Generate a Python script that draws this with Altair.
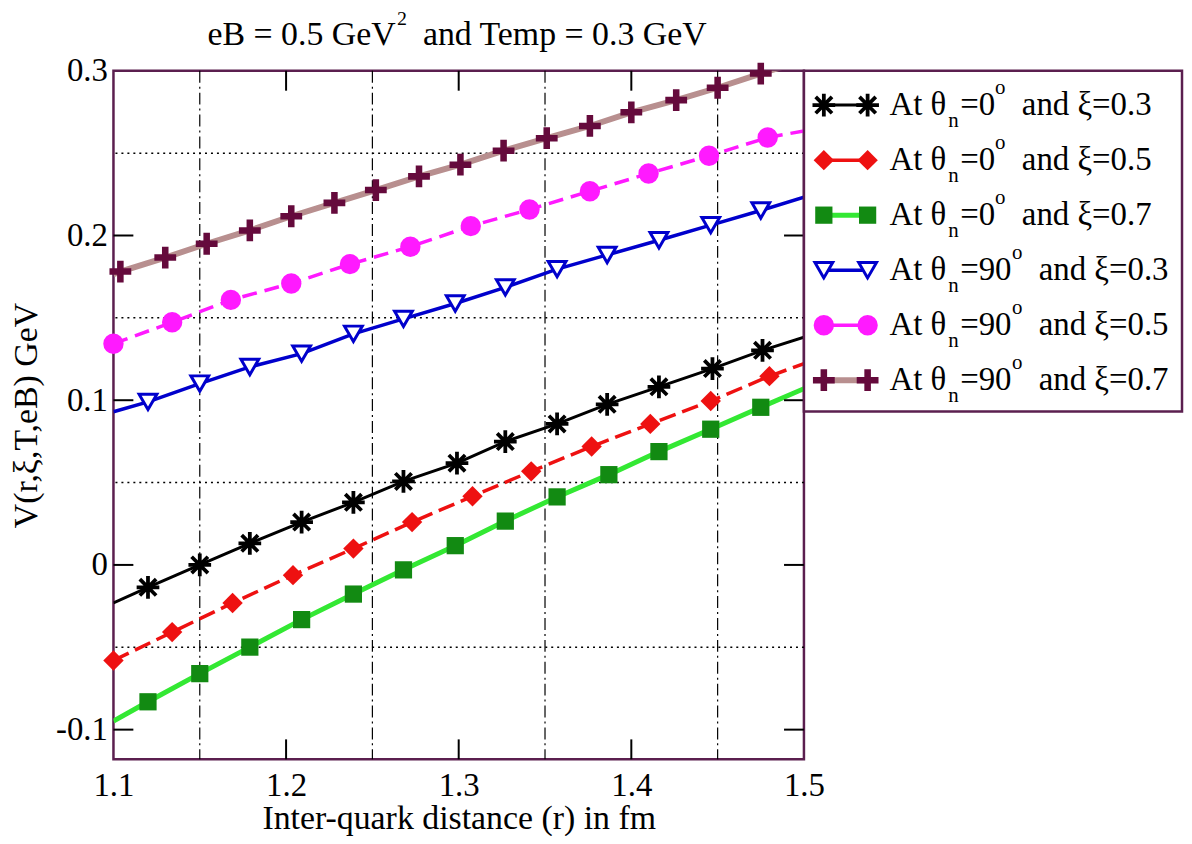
import altair as alt
import pandas as pd

FONT = "Liberation Serif"
FRAME = "#5b1f4f"

# ---------------- data ----------------
# theta_n = 0 deg, xi = 0.3 (black, stars)
black_x = [1.120, 1.150, 1.179, 1.209, 1.239, 1.268, 1.299, 1.327, 1.357, 1.386, 1.416, 1.447, 1.476]
black_y = [-0.0136, 0.0000, 0.0131, 0.0260, 0.0380, 0.0507, 0.0618, 0.0749, 0.0856, 0.0975, 0.1081, 0.1192, 0.1303]
black_ends = [(1.1, -0.0231), (1.5, 0.1383)]

# theta_n = 0 deg, xi = 0.5 (red dashed, diamonds)
red_x = [1.100, 1.134, 1.169, 1.204, 1.239, 1.273, 1.308, 1.342, 1.377, 1.411, 1.446, 1.480]
red_y = [-0.0580, -0.0408, -0.0231, -0.0062, 0.0099, 0.0260, 0.0417, 0.0568, 0.0719, 0.0856, 0.0995, 0.1146]
red_ends = [(1.5, 0.1222)]

# theta_n = 0 deg, xi = 0.7 (green, squares)
green_x = [1.120, 1.150, 1.179, 1.209, 1.239, 1.268, 1.298, 1.327, 1.357, 1.387, 1.416, 1.446, 1.475]
green_y = [-0.0831, -0.0660, -0.0499, -0.0332, -0.0177, -0.0030, 0.0117, 0.0266, 0.0413, 0.0548, 0.0688, 0.0824, 0.0957]
green_ends = [(1.1, -0.0948), (1.5, 0.1070)]

# theta_n = 90 deg, xi = 0.3 (blue, open down triangles)
blue_x = [1.120, 1.150, 1.179, 1.209, 1.239, 1.268, 1.298, 1.327, 1.357, 1.386, 1.416, 1.446, 1.475]
blue_y = [0.0990, 0.1101, 0.1202, 0.1283, 0.1403, 0.1494, 0.1587, 0.1685, 0.1796, 0.1882, 0.1971, 0.2063, 0.2152]
blue_ends = [(1.1, 0.0930), (1.5, 0.2233)]

# theta_n = 90 deg, xi = 0.5 (magenta dashed, circles)
mag_x = [1.100, 1.134, 1.168, 1.203, 1.237, 1.272, 1.307, 1.341, 1.376, 1.410, 1.445, 1.479]
mag_y = [0.1343, 0.1473, 0.1609, 0.1709, 0.1826, 0.1932, 0.2057, 0.2158, 0.2269, 0.2376, 0.2484, 0.2595]
mag_ends = [(1.5, 0.2635)]

# theta_n = 90 deg, xi = 0.7 (rosy line, maroon plus)
plus_x = [1.104, 1.130, 1.154, 1.179, 1.203, 1.228, 1.252, 1.277, 1.301, 1.326, 1.351, 1.376, 1.400, 1.426, 1.450, 1.475]
plus_y = [0.1781, 0.1866, 0.1950, 0.2031, 0.2117, 0.2198, 0.2276, 0.2359, 0.2430, 0.2515, 0.2591, 0.2665, 0.2748, 0.2822, 0.2897, 0.2983]
plus_ends = [(1.1, 0.1765), (1.5, 0.3065)]

legend_theta = ["0", "0", "0", "90", "90", "90"]
legend_xi = ["0.3", "0.5", "0.7", "0.3", "0.5", "0.7"]

x_tick_labels = [1.1, 1.2, 1.3, 1.4, 1.5]
y_tick_labels = [-0.1, 0.0, 0.1, 0.2, 0.3]
x_inner_ticks = [1.2, 1.3, 1.4]
y_inner_ticks = [-0.1, 0.0, 0.1, 0.2]
x_minor_grid = [1.15, 1.25, 1.35, 1.45]
y_minor_grid = [-0.05, 0.05, 0.15, 0.25]

W, H = 694, 692

# ---------------- helpers ----------------
x_scale = alt.Scale(domain=[1.1, 1.5], nice=False, zero=False)
y_scale = alt.Scale(domain=[-0.118, 0.3], nice=False, zero=False)

x_axis = alt.Axis(
    values=x_tick_labels, format=".1f", ticks=False, domain=False, grid=False,
    labelFont=FONT, labelFontSize=33, labelColor="black", labelPadding=10,
    labelFlush=False, labelOverlap=False, title="Inter-quark distance (r) in fm",
    titleFont=FONT, titleFontSize=34, titleFontWeight="normal", titleColor="black",
    titleBaseline="alphabetic", titleY=70,
)
y_axis = alt.Axis(
    values=y_tick_labels,
    labelExpr="abs(datum.value) < 1e-9 ? '0' : (datum.value < 0 ? '-' + format(-datum.value, '.1f') : format(datum.value, '.1f'))",
    ticks=False, domain=False, grid=False, labelFont=FONT, labelFontSize=33,
    labelColor="black", labelPadding=6, labelFlush=False, labelOverlap=False,
    title="V(r,\u03be,T,eB) GeV", titleFont=FONT, titleFontSize=34,
    titleFontWeight="normal", titleColor="black", titleAngle=270,
    titleX=-77, titleBaseline="alphabetic", titleAlign="center",
)


def X():
    return alt.X("r:Q", scale=x_scale, axis=x_axis, title="Inter-quark distance (r) in fm")


def Y():
    return alt.Y("V:Q", scale=y_scale, axis=y_axis, title="V(r,\u03be,T,eB) GeV")


def line_frame(xs, ys, ends):
    pts = list(zip(xs, ys)) + list(ends)
    pts.sort(key=lambda p: p[0])
    return pd.DataFrame({"r": [p[0] for p in pts], "V": [p[1] for p in pts]})


ASTERISK = "M-1,0L1,0M0,-1L0,1M-0.72,-0.72L0.72,0.72M-0.72,0.72L0.72,-0.72"
PLUS = ("M-1,-0.3L-0.3,-0.3L-0.3,-1L0.3,-1L0.3,-0.3L1,-0.3L1,0.3L0.3,0.3"
        "L0.3,1L-0.3,1L-0.3,0.3L-1,0.3Z")

series = [
    dict(xs=black_x, ys=black_y, ends=black_ends, line=dict(color="#000000", strokeWidth=3),
         pt=dict(shape=ASTERISK, filled=False, color="#000000", strokeWidth=3.8, size=520)),
    dict(xs=red_x, ys=red_y, ends=red_ends, line=dict(color="#ee1111", strokeWidth=3.5, strokeDash=[17, 7]),
         pt=dict(shape="diamond", filled=True, color="#ee1111", size=420)),
    dict(xs=green_x, ys=green_y, ends=green_ends, line=dict(color="#33e833", strokeWidth=5),
         pt=dict(shape="square", filled=True, color="#128a12", size=300)),
    dict(xs=blue_x, ys=blue_y, ends=blue_ends, line=dict(color="#0000cc", strokeWidth=3.5),
         pt=dict(shape="triangle-down", filled=True, fill="white", stroke="#0000cc", strokeWidth=3, size=320)),
    dict(xs=mag_x, ys=mag_y, ends=mag_ends, line=dict(color="#ff1aff", strokeWidth=3.5, strokeDash=[15, 8]),
         pt=dict(shape="circle", filled=True, color="#ff1aff", size=420)),
    dict(xs=plus_x, ys=plus_y, ends=plus_ends, line=dict(color="#b88f8f", strokeWidth=6),
         pt=dict(shape=PLUS, filled=True, color="#650a3c", size=480)),
]

layers = []

# grid lines
layers.append(
    alt.Chart(pd.DataFrame({"r": x_minor_grid}))
    .mark_rule(color="black", strokeWidth=1.2, strokeDash=[12, 4, 2, 4])
    .encode(x=X())
)
layers.append(
    alt.Chart(pd.DataFrame({"V": y_minor_grid}))
    .mark_rule(color="black", strokeWidth=1.5, strokeDash=[2, 4])
    .encode(y=Y())
)

# series
for s in series:
    df_line = line_frame(s["xs"], s["ys"], s["ends"])
    df_pts = pd.DataFrame({"r": s["xs"], "V": s["ys"]})
    layers.append(
        alt.Chart(df_line).mark_line(clip=True, **s["line"]).encode(x=X(), y=Y())
    )
    layers.append(
        alt.Chart(df_pts).mark_point(opacity=1, **s["pt"]).encode(x=X(), y=Y())
    )

# inward ticks
xt = pd.DataFrame({"r": x_inner_ticks})
yt = pd.DataFrame({"V": y_inner_ticks})
layers.append(alt.Chart(xt).mark_rule(color="black", strokeWidth=2)
              .encode(x=X(), y=alt.value(H), y2=alt.value(H - 20)))
layers.append(alt.Chart(xt).mark_rule(color="black", strokeWidth=2)
              .encode(x=X(), y=alt.value(0), y2=alt.value(20)))
layers.append(alt.Chart(yt).mark_rule(color="black", strokeWidth=2)
              .encode(y=Y(), x=alt.value(0), x2=alt.value(20)))
layers.append(alt.Chart(yt).mark_rule(color="black", strokeWidth=2)
              .encode(y=Y(), x=alt.value(W - 20), x2=alt.value(W)))

# title
one = pd.DataFrame({"k": [0]})
text_style = dict(font=FONT, color="black", align="left", baseline="alphabetic")
layers.append(alt.Chart(one).mark_text(fontSize=34, **text_style)
              .encode(x=alt.value(94.6), y=alt.value(-26), text=alt.value("eB = 0.5 GeV")))
layers.append(alt.Chart(one).mark_text(fontSize=20, **text_style)
              .encode(x=alt.value(285), y=alt.value(-46), text=alt.value("2")))
layers.append(alt.Chart(one).mark_text(fontSize=34, **text_style)
              .encode(x=alt.value(311), y=alt.value(-26), text=alt.value("and Temp = 0.3 GeV")))

# legend box
layers.append(alt.Chart(one).mark_rect(fill="white", stroke=FRAME, strokeWidth=2.5)
              .encode(x=alt.value(W), x2=alt.value(1074), y=alt.value(0), y2=alt.value(342.5)))

# legend entries
for i, s in enumerate(series):
    yc = 34.5 + 55.3 * i
    layers.append(alt.Chart(one).mark_rule(color=s["line"]["color"], strokeWidth=s["line"]["strokeWidth"])
                  .encode(x=alt.value(714), x2=alt.value(758), y=alt.value(yc)))
    for xp in (714, 758):
        layers.append(alt.Chart(one).mark_point(opacity=1, **s["pt"])
                      .encode(x=alt.value(xp), y=alt.value(yc)))
    th = legend_theta[i]
    sup_x = 886 if len(th) == 1 else 903
    rest_x = 913 if len(th) == 1 else 930
    parts = [
        ("At \u03b8", 780, yc + 10, 33),
        ("n", 839, yc + 21.5, 21),
        ("=" + th, 851, yc + 10, 33),
        ("o", sup_x, yc - 11.5, 21),
        ("and \u03be=" + legend_xi[i], rest_x, yc + 10, 33),
    ]
    for txt, xp, yp, fs in parts:
        layers.append(alt.Chart(one).mark_text(fontSize=fs, **text_style)
                      .encode(x=alt.value(xp), y=alt.value(yp), text=alt.value(txt)))

chart = (
    alt.layer(*layers)
    .properties(
        width=W, height=H,
        autosize=alt.AutoSizeParams(type="none"),
        padding={"left": 106, "top": 61, "right": 382, "bottom": 75},
        background="white",
    )
    .configure_view(stroke=FRAME, strokeWidth=2.5)
)

chart.save("out.html", embed_options={"renderer": "svg", "actions": False})
